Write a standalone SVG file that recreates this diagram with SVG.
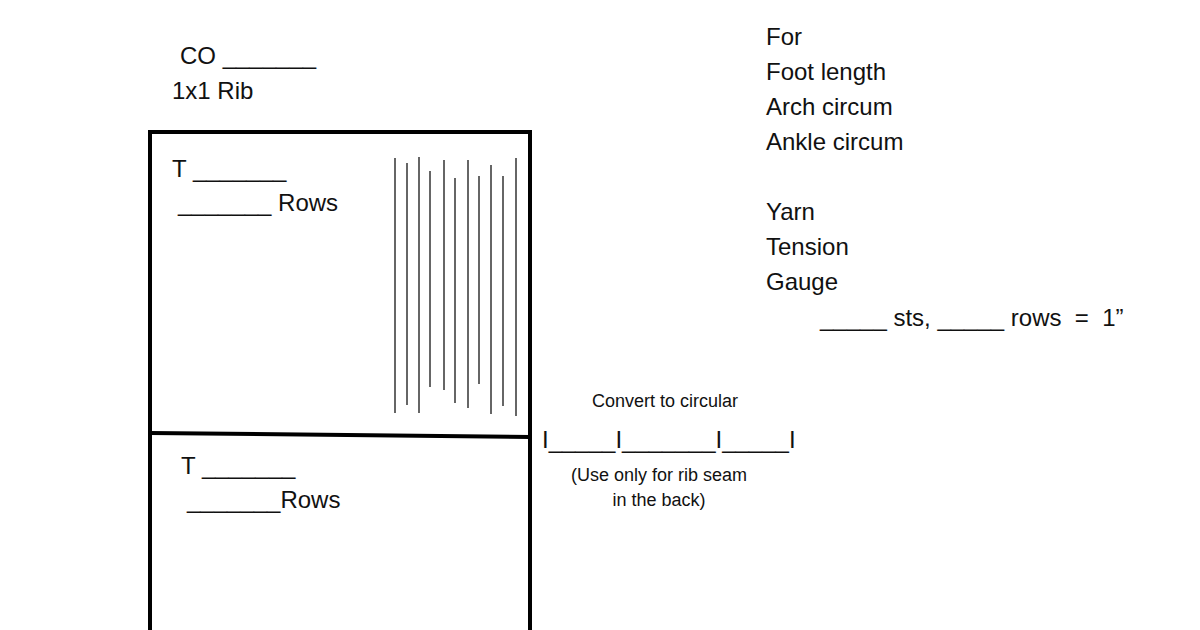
<svg xmlns="http://www.w3.org/2000/svg" width="1200" height="630" viewBox="0 0 1200 630">
<style>
.t{font-family:"Liberation Sans",Arial,sans-serif;font-size:24px;fill:#111}
.s{font-family:"Liberation Sans",Arial,sans-serif;font-size:18px;fill:#111}
.b{stroke:#000;stroke-width:4;fill:none}
.v{stroke:#333;stroke-width:1.5}
</style>
<rect width="1200" height="630" fill="#fff"/>
<g id="header">
<text class="t" x="180" y="64">CO _______</text>
<text class="t" x="172" y="99">1x1 Rib</text>
</g>
<g id="specs">
<text class="t" x="766" y="45">For</text>
<text class="t" x="766" y="80">Foot length</text>
<text class="t" x="766" y="115">Arch circum</text>
<text class="t" x="766" y="150">Ankle circum</text>
<text class="t" x="766" y="220">Yarn</text>
<text class="t" x="766" y="255">Tension</text>
<text class="t" x="766" y="290">Gauge</text>
<text class="t" x="820" y="326" xml:space="preserve">_____ sts, _____ rows  =  1”</text>
</g>
<g id="frame">
<path class="b" d="M150 632 V132 H530 V632"/>
<path class="b" d="M150 433 L530 437"/>
</g>
<g id="top-section">
<text class="t" x="172" y="177">T _______</text>
<text class="t" x="178" y="211">_______ Rows</text>
<g class="v">
<line x1="395" y1="158" x2="395" y2="413"/>
<line x1="407" y1="163" x2="407" y2="405"/>
<line x1="419" y1="157" x2="419" y2="413"/>
<line x1="430" y1="171" x2="430" y2="387"/>
<line x1="444" y1="160" x2="444" y2="390"/>
<line x1="455" y1="178" x2="455" y2="403"/>
<line x1="468" y1="160" x2="468" y2="408"/>
<line x1="479" y1="176" x2="479" y2="384"/>
<line x1="491" y1="165" x2="491" y2="414"/>
<line x1="503" y1="176" x2="503" y2="406"/>
<line x1="516" y1="158" x2="516" y2="416"/>
</g>
</g>
<g id="bottom-section">
<text class="t" x="181" y="474">T _______</text>
<text class="t" x="187" y="508">_______Rows</text>
</g>
<g id="convert">
<text class="s" x="665" y="407" text-anchor="middle">Convert to circular</text>
<text class="t" x="542" y="448">I_____I_______I_____I</text>
<text class="s" x="659" y="481" text-anchor="middle">(Use only for rib seam</text>
<text class="s" x="659" y="506" text-anchor="middle">in the back)</text>
</g>
</svg>
